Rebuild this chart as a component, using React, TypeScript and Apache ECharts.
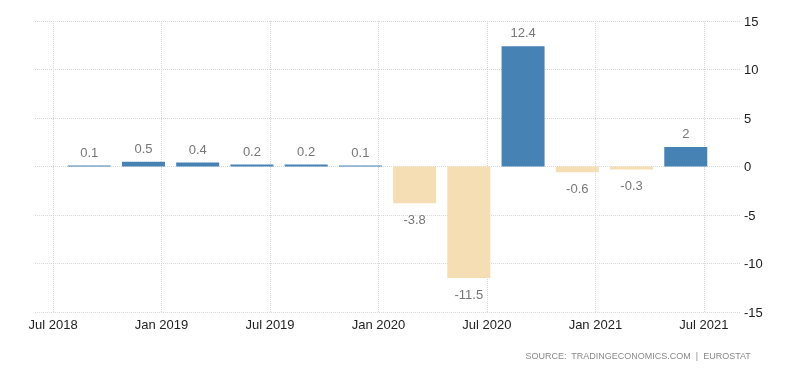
import React, { useEffect, useRef } from "react";
import * as echarts from "echarts";

// Quarterly GDP growth (QoQ %), bars dated at the last month of each quarter
const quarterMonths = [
  "2018-09", "2018-12", "2019-03", "2019-06", "2019-09", "2019-12",
  "2020-03", "2020-06", "2020-09", "2020-12", "2021-03", "2021-06",
];
const values = [0.1, 0.5, 0.4, 0.2, 0.2, 0.1, -3.8, -11.5, 12.4, -0.6, -0.3, 2];

// Axis month range (categories) and tick labels
const axisStart = "2018-06";
const axisEnd = "2021-09";
const tickMonths = ["2018-07", "2019-01", "2019-07", "2020-01", "2020-07", "2021-01", "2021-07"];
const tickLabels = ["Jul 2018", "Jan 2019", "Jul 2019", "Jan 2020", "Jul 2020", "Jan 2021", "Jul 2021"];
const yTicks = [-15, -10, -5, 0, 5, 10, 15];

const sourceText = "SOURCE:  TRADINGECONOMICS.COM  |  EUROSTAT";

function buildMonths(start: string, end: string): string[] {
  const [sy, sm] = start.split("-").map(Number);
  const [ey, em] = end.split("-").map(Number);
  const out: string[] = [];
  let y = sy, m = sm;
  while (y < ey || (y === ey && m <= em)) {
    out.push(`${y}-${String(m).padStart(2, "0")}`);
    m++;
    if (m > 12) { m = 1; y++; }
  }
  return out;
}

export default function App() {
  const ref = useRef<HTMLDivElement>(null);
  useEffect(() => {
    if (!ref.current) return;
    const chart = echarts.init(ref.current, null, { renderer: "svg" });
    const months = buildMonths(axisStart, axisEnd);
    const barData = months.map((mo) => {
      const i = quarterMonths.indexOf(mo);
      if (i < 0) return "-";
      const v = values[i];
      const pos = v >= 0;
      return {
        value: v,
        itemStyle: { color: pos ? "#4682B4" : "#F5DEB3" },
        label: {
          show: true,
          position: pos ? "top" : "bottom",
          distance: pos ? 7 : 10,
        },
      };
    });
    const isTick = (idx: number) => tickMonths.indexOf(months[idx]) >= 0;
    const font = "'Liberation Sans', Arial, sans-serif";
    chart.setOption({
      animation: false,
      textStyle: { fontFamily: font },
      grid: { left: 35, right: 60, top: 21, bottom: 61, containLabel: false },
      xAxis: {
        type: "category",
        data: months,
        boundaryGap: false,
        axisLine: { show: false },
        axisTick: {
          show: true,
          interval: (idx: number) => isTick(idx),
          length: 4,
          lineStyle: { color: "#d8d8d8", type: "dotted" },
        },
        axisLabel: {
          interval: (idx: number) => isTick(idx),
          formatter: (v: string) => {
            const i = tickMonths.indexOf(v);
            return i >= 0 ? tickLabels[i] : "";
          },
          color: "#222222",
          fontSize: 13,
          fontFamily: font,
          margin: 6,
        },
        splitLine: {
          show: true,
          interval: (idx: number) => isTick(idx),
          lineStyle: { color: "#d8d8d8", type: "dotted", width: 1 },
        },
      },
      yAxis: {
        type: "value",
        position: "right",
        min: yTicks[0],
        max: yTicks[yTicks.length - 1],
        interval: 5,
        axisLine: { show: false },
        axisTick: { show: false },
        axisLabel: {
          color: "#222222",
          fontSize: 13,
          fontFamily: font,
          margin: 4,
        },
        splitLine: {
          show: true,
          lineStyle: { color: "#d8d8d8", type: "dotted", width: 1 },
        },
      },
      series: [
        {
          type: "bar",
          data: barData,
          barWidth: 43,
          label: {
            color: "#777777",
            fontSize: 13,
            fontFamily: font,
          },
        },
      ],
      graphic: [
        {
          type: "text",
          right: 49,
          top: 351,
          style: {
            text: sourceText,
            fill: "#8a8a8a",
            font: `9px ${font}`,
          },
        },
      ],
    });
    return () => chart.dispose();
  }, []);
  return (
    <div
      ref={ref}
      style={{ position: "fixed", left: 0, top: 0, width: 800, height: 373 }}
    />
  );
}
